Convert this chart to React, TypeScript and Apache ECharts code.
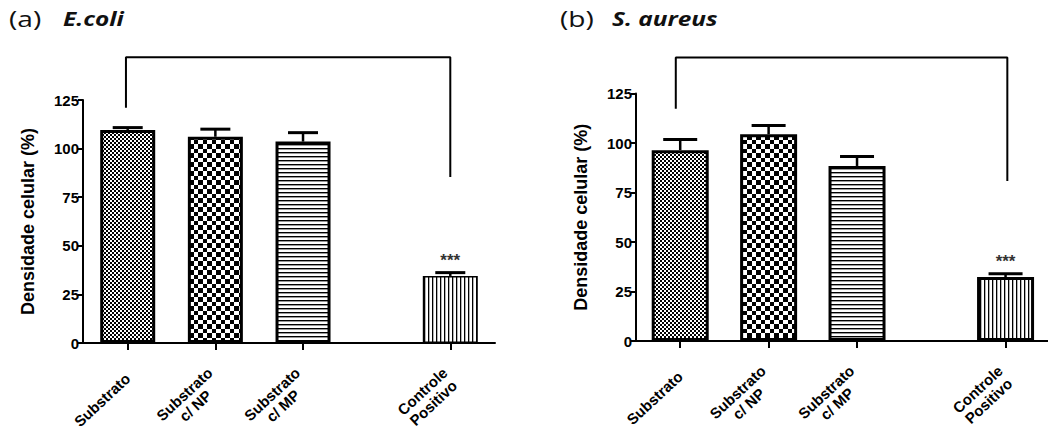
import React, { useEffect, useRef } from 'react';
import * as echarts from 'echarts';

// ---- data ----
const categories = ['Substrato', 'Substrato\nc/ NP', 'Substrato\nc/ MP', 'Controle\nPositivo'];
const xPositions = [1, 2, 3, 4.68];
const ecoliMeans = [109.6, 106.1, 103.6, 34.5];
const ecoliErrTop = [110.8, 110.0, 108.2, 36.2];
const aureusMeans = [96.4, 104.4, 88.4, 32.3];
const aureusErrTop = [101.8, 108.8, 93.2, 34.0];
const significance = ['', '', '', '***'];
const yMin = 0;
const yMax = 125;
const yInterval = 25;
const ecoliBracket = [[0.98, 121], [0.98, 147], [4.68, 147], [4.68, 85.4]];
const aureusBracket = [[0.95, 117.3], [0.95, 143.2], [4.7, 143.2], [4.7, 80.8]];
const panelTitles = ['(a)', '(b)'];
const panelSpecies = ['E.coli', 'S. aureus'];
const yAxisName = 'Densidade celular (%)';

const FONT = '"Liberation Sans", Arial, sans-serif';
const TITLE_FONT = '"Open Sans", "Liberation Sans", sans-serif';

function makePattern(w: number, h: number, draw: (ctx: CanvasRenderingContext2D) => void) {
  const c = document.createElement('canvas');
  c.width = w;
  c.height = h;
  const ctx = c.getContext('2d') as CanvasRenderingContext2D;
  ctx.fillStyle = '#ffffff';
  ctx.fillRect(0, 0, w, h);
  ctx.fillStyle = '#000000';
  draw(ctx);
  return { image: c, repeat: 'repeat', imageWidth: w, imageHeight: h } as any;
}

export default function App() {
  const ref = useRef<HTMLDivElement>(null);

  useEffect(() => {
    if (!ref.current) return;
    const chart = echarts.init(ref.current, null, { renderer: 'svg' });

    const patterns = [
      makePattern(4, 4, (c) => { c.fillRect(0, 0, 2, 2); c.fillRect(2, 2, 2, 2); }),
      makePattern(9, 9, (c) => { c.fillRect(0, 0, 5, 5); c.fillRect(5, 5, 4, 4); }),
      makePattern(4, 4, (c) => { c.fillRect(0, 0, 4, 1.4); }),
      makePattern(4, 4, (c) => { c.fillRect(0, 0, 1.3, 4); }),
    ];

    const panels = [
      { left: 83, top: 100, width: 412, height: 243, xMin: 0.49, xMax: 5.19, means: ecoliMeans, err: ecoliErrTop, bracket: ecoliBracket, barWidth: 55, borders: [3, 3, 3, 1.5], cap: 30, titleX: 9, speciesX: 63 },
      { left: 636, top: 93.5, width: 412, height: 247.5, xMin: 0.5, xMax: 5.16, means: aureusMeans, err: aureusErrTop, bracket: aureusBracket, barWidth: 57, borders: [3, 3, 3, 3], cap: 34, titleX: 560, speciesX: 612 },
    ];

    const labelFor = (v: number) => {
      const i = xPositions.findIndex((p) => Math.abs(p - v) < 1e-6);
      if (i < 0) return '';
      return categories[i].split('\n').map((s) => '{a|' + s + '}').join('\n');
    };

    const grid: any[] = [];
    const xAxis: any[] = [];
    const yAxis: any[] = [];
    const series: any[] = [];
    const graphic: any[] = [];

    panels.forEach((p, k) => {
      grid.push({ left: p.left, top: p.top, width: p.width, height: p.height, containLabel: false, outerBoundsMode: 'none' });
      xAxis.push({
        type: 'value', gridIndex: k, min: p.xMin, max: p.xMax,
        axisLine: { show: true, onZero: false, lineStyle: { color: '#000', width: 2 } },
        axisTick: { show: true, customValues: xPositions, length: 7, lineStyle: { color: '#000', width: 2 } },
        axisLabel: {
          show: true, customValues: xPositions, rotate: 43, margin: 33, formatter: labelFor,
          lineHeight: 16, hideOverlap: false,
          rich: { a: { align: 'center', fontFamily: FONT, fontWeight: 'bold', fontSize: 15, color: '#000', lineHeight: 16 } },
        },
        splitLine: { show: false },
      });
      yAxis.push({
        type: 'value', gridIndex: k, min: yMin, max: yMax, interval: yInterval,
        axisLine: { show: true, lineStyle: { color: '#000', width: 2 } },
        axisTick: { show: true, length: 5, lineStyle: { color: '#000', width: 2 } },
        axisLabel: { color: '#000', fontFamily: FONT, fontWeight: 'bold', fontSize: 15, margin: 4 },
        splitLine: { show: false },
        name: yAxisName, nameLocation: 'middle', nameGap: 46,
        nameTextStyle: { color: '#000', fontFamily: FONT, fontWeight: 'bold', fontSize: 18 },
      });
      series.push({
        type: 'bar', xAxisIndex: k, yAxisIndex: k, barWidth: p.barWidth,
        data: p.means.map((m, i) => ({
          value: [xPositions[i], m],
          itemStyle: { color: patterns[i], borderColor: '#000', borderWidth: p.borders[i] },
        })),
        z: 2,
      });
      series.push({
        type: 'custom', xAxisIndex: k, yAxisIndex: k, z: 3,
        data: p.means.map((m, i) => [xPositions[i], m, p.err[i], i]),
        renderItem: (params: any, api: any) => {
          const x = api.value(0);
          const m = api.value(1);
          const e = api.value(2);
          const idx = api.value(3);
          const p0 = api.coord([x, m]);
          const p1 = api.coord([x, e]);
          const children: any[] = [
            { type: 'line', shape: { x1: p0[0], y1: p0[1], x2: p1[0], y2: p1[1] }, style: { stroke: '#000', lineWidth: 2.5 } },
            { type: 'line', shape: { x1: p1[0] - p.cap / 2, y1: p1[1], x2: p1[0] + p.cap / 2, y2: p1[1] }, style: { stroke: '#000', lineWidth: 3 } },
          ];
          const sig = significance[idx];
          if (sig) {
            children.push({
              type: 'text',
              style: { text: sig, x: p1[0], y: p1[1] - 4, align: 'center', verticalAlign: 'bottom', fontSize: 17, fontWeight: 'bold', fontFamily: FONT, fill: '#333' },
            });
          }
          return { type: 'group', children };
        },
      });
      series.push({
        type: 'line', xAxisIndex: k, yAxisIndex: k, data: p.bracket, symbol: 'none', clip: false,
        lineStyle: { color: '#000', width: 2 }, z: 4, silent: true,
      });
      graphic.push({
        type: 'text', x: p.titleX, y: 7, scaleX: 1.28,
        style: { text: panelTitles[k], fontFamily: TITLE_FONT, fontWeight: 'normal', fontSize: 22, fill: '#111', verticalAlign: 'top' },
      });
      graphic.push({
        type: 'text', x: p.speciesX, y: 8, scaleX: 1.22,
        style: { text: panelSpecies[k], fontFamily: TITLE_FONT, fontWeight: 'bold', fontStyle: 'italic', fontSize: 20, fill: '#111', verticalAlign: 'top' },
      });
    });

    chart.setOption({ animation: false, backgroundColor: '#fff', graphic, grid, xAxis, yAxis, series });
    return () => chart.dispose();
  }, []);

  return <div ref={ref} style={{ position: 'fixed', left: 0, top: 0, width: 1048, height: 435 }} />;
}
